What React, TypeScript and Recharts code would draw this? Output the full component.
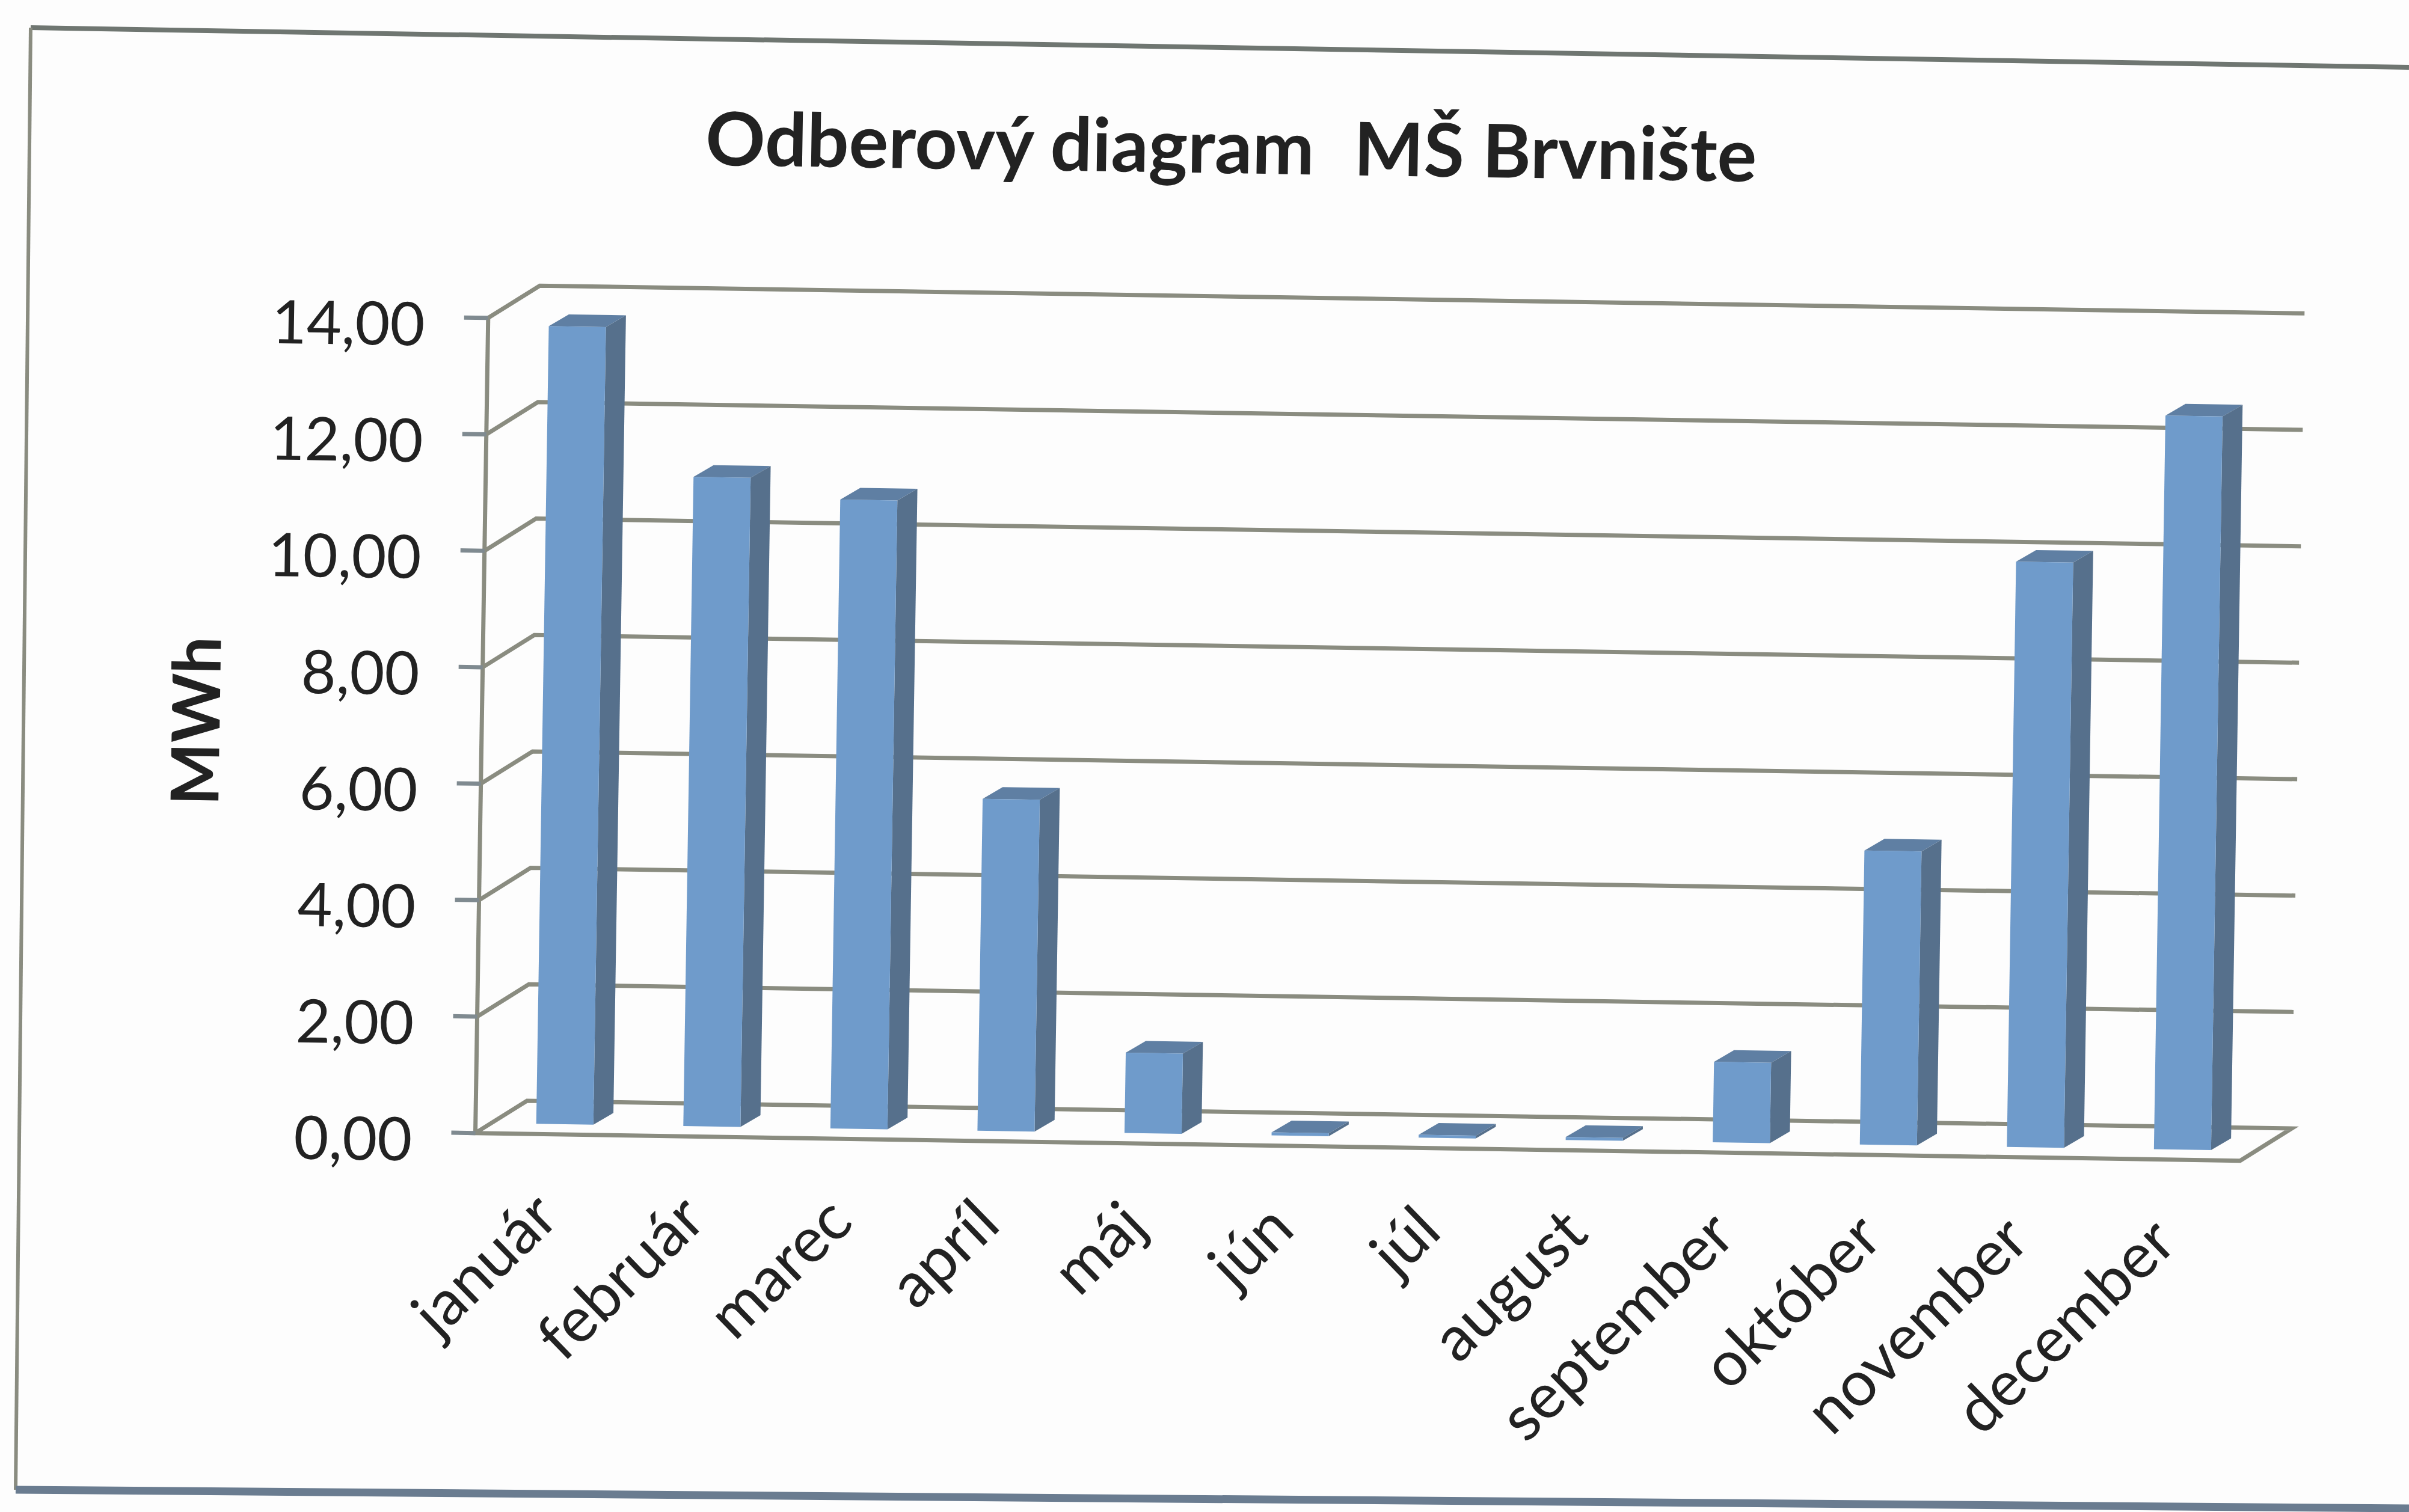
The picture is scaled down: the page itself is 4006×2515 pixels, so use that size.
import { BarChart, Bar, XAxis, YAxis, ReferenceLine } from "recharts"

const months = ["január", "február", "marec", "apríl", "máj", "jún", "júl", "august", "september", "október", "november", "december"]
const consumption = [13.7, 11.15, 10.8, 5.7, 1.38, 0.05, 0.05, 0.05, 1.38, 5.05, 10.05, 12.6]
const yTicks = [0, 2, 4, 6, 8, 10, 12, 14]

const data = months.map((month, i) => ({ month, value: consumption[i] }))

const FONT = "Lato, Carlito, sans-serif"
const GRID = "#8a8c80"
const TEXT = "#222222"
// depth of the fake 3d wall and of the bars
const DEPTH_X = 85
const DEPTH_Y = -55
const BAR_DX = 33
const BAR_DY = -20

function Bar3D(props: any) {
  const { x, y, width, height } = props
  const left = x + 26
  const top = y - 17
  const right = left + width
  const bottom = top + height
  return (
    <g>
      <polygon
        points={`${left},${top} ${left + BAR_DX},${top + BAR_DY} ${right + BAR_DX},${top + BAR_DY} ${right},${top}`}
        fill="#5f7fa3"
      />
      <polygon
        points={`${right},${top} ${right + BAR_DX},${top + BAR_DY} ${right + BAR_DX},${bottom + BAR_DY} ${right},${bottom}`}
        fill="#56708c"
      />
      <rect x={left} y={top} width={width} height={height} fill="#6f9bcb" />
    </g>
  )
}

function WallLine(props: any) {
  const { x1, y1, x2, y2 } = props
  return (
    <polyline
      points={`${x1},${y1} ${x1 + DEPTH_X},${y1 + DEPTH_Y} ${x2 + DEPTH_X},${y2 + DEPTH_Y}`}
      fill="none"
      stroke={GRID}
      strokeWidth={7}
    />
  )
}

function FloorLine(props: any) {
  const { x1, y1, x2, y2 } = props
  return (
    <polygon
      points={`${x1},${y1} ${x2},${y2} ${x2 + DEPTH_X},${y2 + DEPTH_Y} ${x1 + DEPTH_X},${y1 + DEPTH_Y}`}
      fill="none"
      stroke={GRID}
      strokeWidth={7}
    />
  )
}

function MonthTick(props: any) {
  const { x, y, payload } = props
  return (
    <text
      transform={`translate(${x + 23},${y + 135}) rotate(-45)`}
      textAnchor="end"
      fontFamily={FONT}
      fontSize={105}
      fill={TEXT}
    >
      {payload.value}
    </text>
  )
}

export default function App() {
  return (
    <div style={{ position: "absolute", left: 0, top: 0, width: 4006, height: 2515, overflow: "hidden", background: "#fdfdfd" }}>
      <svg width={4006} height={2515} style={{ position: "absolute", left: 0, top: 0 }}>
        <line x1={51} y1={46} x2={4006} y2={112} stroke="#6f7671" strokeWidth={8} />
        <line x1={51} y1={46} x2={26} y2={2478} stroke="#8a8c80" strokeWidth={6} />
        <line x1={26} y1={2478} x2={4006} y2={2509} stroke="#6a7c90" strokeWidth={13} />
      </svg>
      <div style={{ position: "absolute", left: 0, top: 0, width: 4006, height: 2515, transform: "rotate(0.9deg)", transformOrigin: "0 0" }}>
        <div
          style={{
            position: "absolute",
            left: 1177,
            top: 135,
            fontFamily: FONT,
            fontWeight: 700,
            fontSize: 123,
            color: TEXT,
            whiteSpace: "pre",
            lineHeight: 1.2,
          }}
        >
          {"Odberový diagram "}
          <span style={{ marginLeft: 36 }}>MŠ Brvnište</span>
        </div>
        <BarChart
          width={4006}
          height={2515}
          data={data}
          margin={{ top: 516, right: 251, bottom: 243, left: 320 }}
          barSize={95}
          style={{ position: "absolute", left: 0, top: 0 }}
        >
          <XAxis dataKey="month" height={400} interval={0} axisLine={false} tickLine={false} tick={MonthTick} />
          <YAxis
            width={500}
            domain={[0, 14]}
            ticks={yTicks}
            interval={0}
            stroke={GRID}
            tickSize={40}
            tickMargin={65}
            tickFormatter={(v: number) => v.toFixed(2).replace(".", ",")}
            tick={{ fontFamily: FONT, fontSize: 100, fill: TEXT, dy: 12 }}
            axisLine={{ stroke: GRID, strokeWidth: 7 }}
            tickLine={{ stroke: "#7f8a90", strokeWidth: 7 }}
            label={{
              value: "MWh",
              angle: -90,
              position: "insideLeft",
              offset: 25,
              style: { fontFamily: FONT, fontWeight: 700, fontSize: 110, fill: TEXT, textAnchor: "middle" },
            }}
          />
          {yTicks.slice(1).map((t) => (
            <ReferenceLine key={t} y={t} shape={WallLine} zIndex={0} />
          ))}
          <ReferenceLine y={0} shape={FloorLine} zIndex={0} />
          <Bar dataKey="value" shape={Bar3D} isAnimationActive={false} />
        </BarChart>
      </div>
    </div>
  )
}
